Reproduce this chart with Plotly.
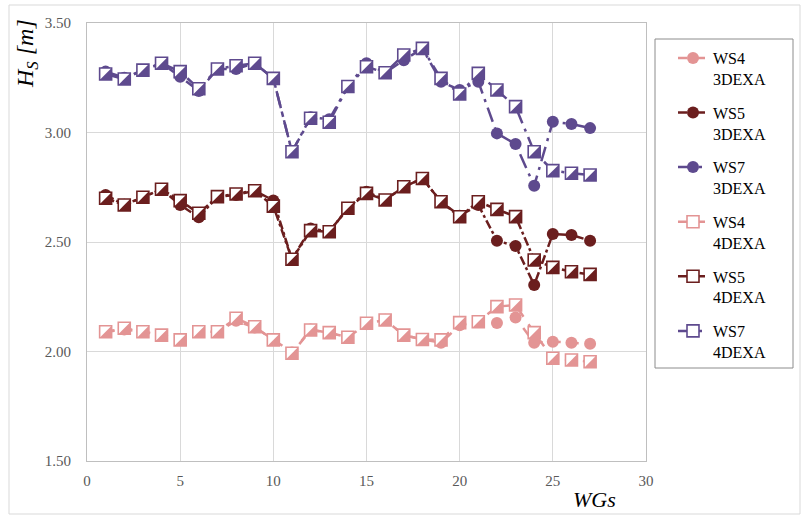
import plotly.graph_objects as go

# ---------------- data ----------------
wg = list(range(1, 28))

ws4_3d = [2.09, 2.10, 2.09, 2.075, 2.055, 2.09, 2.09, 2.14, 2.11, 2.055, 1.995, 2.10, 2.085, 2.065,
          2.125, 2.145, 2.075, 2.055, 2.04, 2.12, 2.135, 2.13, 2.155, 2.04, 2.045, 2.04, 2.035]
ws5_3d = [2.715, 2.67, 2.704, 2.741, 2.669, 2.613, 2.707, 2.715, 2.734, 2.69, 2.421, 2.562, 2.547, 2.654,
          2.73, 2.692, 2.752, 2.79, 2.684, 2.62, 2.669, 2.506, 2.482, 2.304, 2.537, 2.532, 2.506]
ws7_3d = [3.278, 3.25, 3.285, 3.316, 3.255, 3.19, 3.29, 3.29, 3.316, 3.247, 2.912, 3.07, 3.06, 3.21,
          3.316, 3.273, 3.33, 3.384, 3.232, 3.194, 3.232, 2.996, 2.947, 2.757, 3.049, 3.039, 3.02]

ws4_4d = [2.09, 2.106, 2.09, 2.075, 2.053, 2.09, 2.09, 2.152, 2.113, 2.053, 1.992, 2.098, 2.086, 2.065,
          2.129, 2.144, 2.075, 2.055, 2.053, 2.132, 2.136, 2.205, 2.212, 2.086, 1.969, 1.961, 1.953]
ws5_4d = [2.70, 2.669, 2.704, 2.741, 2.689, 2.631, 2.707, 2.719, 2.734, 2.664, 2.421, 2.552, 2.547, 2.654,
          2.722, 2.692, 2.752, 2.79, 2.684, 2.615, 2.684, 2.649, 2.616, 2.418, 2.384, 2.364, 2.352]
ws7_4d = [3.267, 3.244, 3.285, 3.316, 3.278, 3.20, 3.29, 3.305, 3.316, 3.247, 2.912, 3.065, 3.047, 3.21,
          3.30, 3.273, 3.354, 3.384, 3.247, 3.176, 3.27, 3.194, 3.118, 2.912, 2.826, 2.814, 2.806]

names_3d = ["WS4<br>3DEXA", "WS5<br>3DEXA", "WS7<br>3DEXA"]
names_4d = ["WS4<br>4DEXA", "WS5<br>4DEXA", "WS7<br>4DEXA"]

# ---------------- style ----------------
colors = ["#E39494", "#6B1E1E", "#5E4A8E"]
dashes = ["dash", "dashdot", "longdashdot"]
FONT = "Liberation Serif, Times New Roman, serif"

W, H = 801, 516
L, R, T, B = 87, 155, 23, 55
PW, PH = W - L - R, H - T - B


def px(xp, yp):
    return (xp - L) / PW, (H - B - yp) / PH


fig = go.Figure()

series_3d = [ws4_3d, ws5_3d, ws7_3d]
series_4d = [ws4_4d, ws5_4d, ws7_4d]

for i, (ys, nm) in enumerate(zip(series_3d, names_3d)):
    fig.add_trace(go.Scatter(
        x=wg, y=ys, name=nm, mode="lines+markers", legendgroup=f"g3{i}",
        line=dict(color=colors[i], width=2.5, dash=dashes[i]),
        marker=dict(symbol="circle", size=12, color=colors[i]),
    ))

for i, (ys, nm) in enumerate(zip(series_4d, names_4d)):
    fig.add_trace(go.Scatter(
        x=wg, y=ys, name=nm, mode="lines+markers", legendgroup=f"g4{i}",
        line=dict(color=colors[i], width=2.5, dash=dashes[i]),
        marker=dict(symbol="square", size=12, color="white",
                    line=dict(color=colors[i], width=1.6)),
    ))

# half-filled overlay (lower-right triangle) on slightly shifted overlay axes
for i, ys in enumerate(series_4d):
    fig.add_trace(go.Scatter(
        x=wg, y=ys, mode="markers", showlegend=False, legendgroup=f"g4{i}",
        xaxis="x2", yaxis="y2", hoverinfo="skip",
        marker=dict(symbol="triangle-se", size=13.3, color=colors[i], line=dict(width=0)),
    ))

dx = 2 * 30 / PW
dy = 2 * 2 / PH

axis_common = dict(
    showgrid=True, gridcolor="#d9d9d9", gridwidth=1,
    showline=True, linecolor="#bfbfbf", linewidth=1, mirror=True,
    zeroline=False, ticks="",
    tickfont=dict(family=FONT, size=15, color="#595959"),
)

x0p, y0p = px(9, 514)
x1p, y1p = px(800, 5)
lx0, ly0 = px(655, 368)
lx1, ly1 = px(793, 39)
legx, legy = px(673, 41)
ytx, yty = px(27, 54)
xtx, xty = px(594, 499)

fig.update_layout(
    width=W, height=H,
    margin=dict(l=L, r=R, t=T, b=B),
    paper_bgcolor="white", plot_bgcolor="white",
    font=dict(family=FONT, color="black"),
    xaxis=dict(range=[0, 30], dtick=5, ticklabelstandoff=6, **axis_common),
    yaxis=dict(range=[1.5, 3.5], dtick=0.5, tickformat=".2f", ticklabelstandoff=12, **axis_common),
    xaxis2=dict(range=[0 - dx, 30 - dx], overlaying="x", visible=False),
    yaxis2=dict(range=[1.5 + dy, 3.5 + dy], overlaying="y", visible=False),
    showlegend=True,
    legend=dict(
        x=legx, y=legy, xanchor="left", yanchor="top",
        bgcolor="rgba(0,0,0,0)", borderwidth=0,
        font=dict(family=FONT, size=16, color="black"),
        valign="top", tracegroupgap=10, itemwidth=30,
    ),
    shapes=[
        dict(type="rect", xref="paper", yref="paper", x0=x0p, y0=y0p, x1=x1p, y1=y1p,
             line=dict(color="#d9d9d9", width=1), fillcolor="rgba(0,0,0,0)", layer="below"),
        dict(type="rect", xref="paper", yref="paper", x0=lx0, y0=ly0, x1=lx1, y1=ly1,
             line=dict(color="#8c8c8c", width=1), fillcolor="rgba(0,0,0,0)"),
    ],
    annotations=[
        dict(text="<i>H<sub>S</sub> [m]</i>", xref="paper", yref="paper", x=ytx, y=yty,
             showarrow=False, textangle=-90, font=dict(family=FONT, size=24, color="black"),
             xanchor="center", yanchor="middle"),
        dict(text="<i>WGs</i>", xref="paper", yref="paper", x=xtx, y=xty,
             showarrow=False, font=dict(family=FONT, size=22, color="black"),
             xanchor="center", yanchor="middle"),
    ],
)

fig.write_html("out.html")
